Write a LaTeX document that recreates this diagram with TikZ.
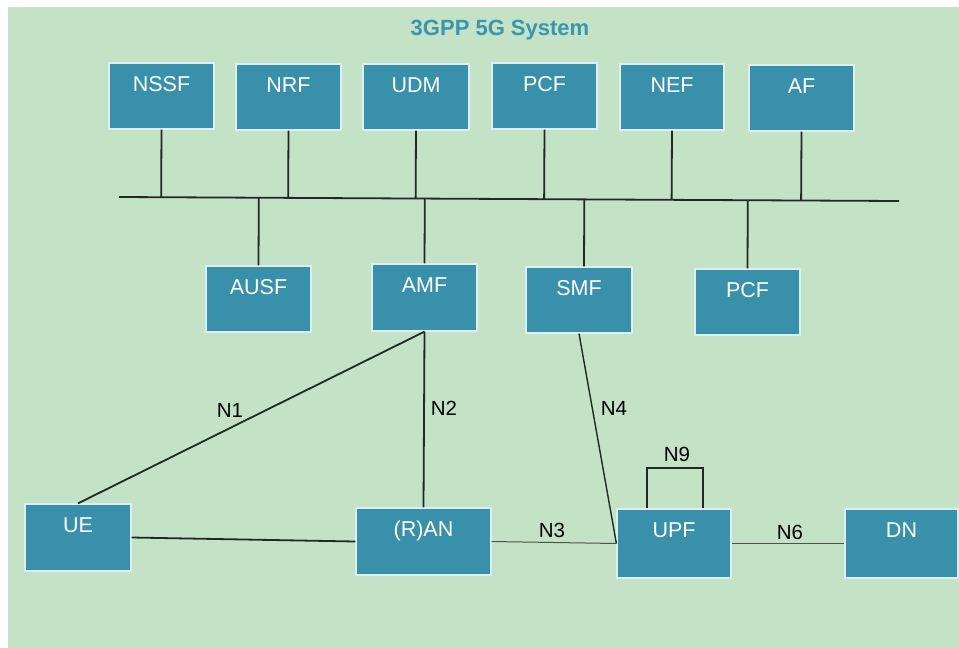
\documentclass[tikz,border=0pt]{standalone}
\usepackage{fontspec}
\setmainfont{Liberation Sans}
\usetikzlibrary{calc}
\definecolor{bggreen}{HTML}{C4E2C6}
\definecolor{nfblue}{HTML}{3990AB}
\definecolor{nfedge}{HTML}{DDEFEF}
\definecolor{titleteal}{HTML}{3A95AE}
\definecolor{wire}{HTML}{1E2A22}
\tikzset{
  nf/.style={draw=nfedge, line width=1.2pt, fill=nfblue, text=white,
    inner sep=0pt, text height=28pt, text depth=38pt,
    minimum width=105pt, align=center,
    font=\fontsize{21.5}{21.5}\selectfont},
  link/.style={draw=wire, line width=1.8pt},
  thinlink/.style={draw=wire!80, line width=1pt},
  iface/.style={text=black, inner sep=1pt, font=\fontsize{20.5}{20.5}\selectfont}
}
\begin{document}
\begin{tikzpicture}[x=1pt, y=-1pt]
  \useasboundingbox (0,0) rectangle (959,648);
  % canvas
  \fill[bggreen] (8,7) rectangle (959,648);
  \node (title) at (500,30) {\fontsize{22}{22}\selectfont\bfseries\color{titleteal}3GPP 5G System};

  % service-based bus
  \coordinate (busL) at (119,197);
  \coordinate (busR) at (899,201);
  \draw[link] (busL) -- (busR);

  % network functions above the bus
  \node[nf] (nssf) at (161.5,96) {NSSF};
  \node[nf] (nrf)  at (288.5,97) {NRF};
  \node[nf, minimum width=106pt] (udm) at (416,97) {UDM};
  \node[nf] (pcfa) at (544.5,96) {PCF};
  \node[nf, minimum width=104pt] (nef) at (672,97) {NEF};
  \node[nf] (af)   at (801.5,98) {AF};

  % network functions below the bus
  \node[nf] (ausf) at (258.5,299) {AUSF};
  \node[nf, text depth=39pt] (amf) at (424.5,297.5) {AMF};
  \node[nf, minimum width=106pt] (smf) at (579,300) {SMF};
  \node[nf] (pcfb) at (747.5,302) {PCF};

  % access and user plane
  \node[nf, minimum width=106pt, text depth=39pt] (ue) at (78,537.5) {UE};
  \node[nf, minimum width=135pt, text depth=39pt] (ran) at (423.5,541.5) {(R)AN};
  \node[nf, minimum width=114pt, text depth=41pt] (upf) at (674,543.5) {UPF};
  \node[nf, minimum width=113pt, text depth=41pt] (dn) at (901.5,543.5) {DN};

  % bus attachments
  \foreach \n in {nssf,nrf,udm,pcfa,nef,af}
    \draw[link] (\n.south) -- ($(busL)!(\n.south)!(busR)$);
  \foreach \n in {ausf,amf,pcfb}
    \draw[link] (\n.north) -- ($(busL)!(\n.north)!(busR)$);
  \coordinate (smftop) at ([xshift=5pt]smf.north);
  \draw[link] (smftop) -- ($(busL)!(smftop)!(busR)$);

  % reference points
  \draw[link] (amf.south) -- (ue.north);
  \draw[link] (amf.south) -- (ran.north);
  \draw[link] (ue.east) -- (ran.west);
  \draw[thinlink] (ran.east) -- (upf.west);
  \draw[link, line width=1.4pt] (smf.south) -- (upf.west);
  \draw[link] ([xshift=-27pt]upf.north) |- (674,468) -| ([xshift=29pt]upf.north);
  \draw[thinlink] (upf.east) -- (dn.west);

  % interface labels
  \node[iface] (n1) at (230,410) {N1};
  \node[iface] (n2) at (444,408) {N2};
  \node[iface] (n4) at (614,408) {N4};
  \node[iface] (n9) at (677,454) {N9};
  \node[iface] (n3) at (552,530) {N3};
  \node[iface] (n6) at (790,532) {N6};
\end{tikzpicture}
\end{document}
